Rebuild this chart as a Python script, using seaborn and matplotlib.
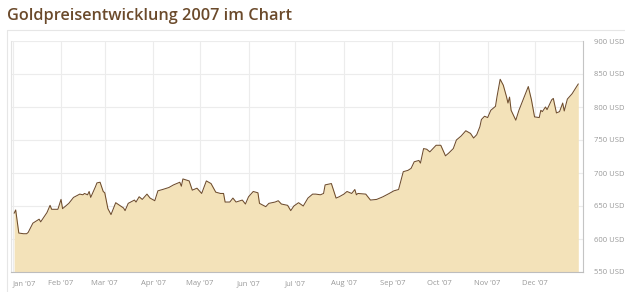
import pandas as pd
import numpy as np
import matplotlib.pyplot as plt
import matplotlib.dates as mdates
import seaborn as sns

# Gold price 2007 (USD per ounce)
dates = [
    "01-02", "01-03", "01-05", "01-08", "01-10", "01-11", "01-14", "01-18", "01-19", "01-23",
    "01-25", "01-26", "01-30", "02-01", "02-02", "02-06", "02-09", "02-13", "02-15", "02-16",
    "02-18", "02-19", "02-20", "02-23", "02-24", "02-26", "02-28", "03-01", "03-03", "03-05",
    "03-08", "03-13", "03-14", "03-16", "03-20", "03-21", "03-23", "03-25", "03-28", "03-30",
    "04-02", "04-04", "04-07", "04-11", "04-14", "04-17", "04-18", "04-19", "04-20", "04-24",
    "04-26", "04-29", "05-02", "05-05", "05-08", "05-11", "05-14", "05-16", "05-17", "05-20",
    "05-22", "05-24", "05-28", "05-30", "06-01", "06-04", "06-07", "06-08", "06-12", "06-14",
    "06-18", "06-20", "06-22", "06-26", "06-28", "06-30", "07-03", "07-06", "07-09", "07-12",
    "07-14", "07-17", "07-19", "07-20", "07-24", "07-27", "07-29", "08-01", "08-03", "08-06",
    "08-08", "08-09", "08-10", "08-15", "08-18", "08-22", "08-26", "08-30", "09-02", "09-05",
    "09-08", "09-11", "09-13", "09-15", "09-18", "09-19", "09-21", "09-23", "09-25", "09-29",
    "10-02", "10-05", "10-07", "10-10", "10-12", "10-15", "10-18", "10-21", "10-23", "10-25",
    "10-27", "10-28", "10-30", "11-01", "11-03", "11-06", "11-07", "11-09", "11-11", "11-13",
    "11-14", "11-15", "11-16", "11-19", "11-21", "11-24", "11-27", "11-29", "12-01", "12-04",
    "12-05", "12-06", "12-08", "12-09", "12-12", "12-13", "12-15", "12-17", "12-19", "12-20",
    "12-22", "12-25", "12-29",
]
prices = [
    639, 644, 609, 608, 608, 610, 624, 630, 626, 640,
    651, 645, 645, 660, 646, 654, 663, 668, 667, 669,
    667, 672, 663, 679, 685, 686, 672, 670, 646, 637,
    655, 647, 643, 654, 659, 656, 664, 660, 668, 662,
    658, 673, 675, 678, 682, 685, 686, 680, 691, 688,
    674, 677, 669, 688, 684, 671, 669, 669, 656, 656,
    662, 656, 659, 653, 664, 672, 670, 654, 649, 654,
    656, 658, 653, 651, 643, 650, 655, 650, 662, 668,
    668, 667, 669, 682, 684, 662, 664, 668, 672, 669,
    675, 667, 669, 668, 659, 660, 664, 669, 673, 675,
    702, 704, 707, 717, 719, 715, 737, 736, 732, 742,
    742, 726, 730, 737, 750, 756, 764, 760, 753, 758,
    770, 781, 786, 784, 795, 801, 816, 842, 833, 816,
    806, 815, 795, 780, 795, 813, 831, 811, 785, 784,
    795, 793, 800, 796, 811, 813, 791, 793, 806, 794,
    812, 820, 835,
]

month_labels = ["Jan '07", "Feb '07", "Mar '07", "Apr '07", "May '07", "Jun '07",
                "Jul '07", "Aug '07", "Sep '07", "Oct '07", "Nov '07", "Dec '07"]
y_ticks = [550, 600, 650, 700, 750, 800, 850, 900]

df = pd.DataFrame({"date": pd.to_datetime(["2007-" + d for d in dates]), "price": prices})

sns.set_style("white")
plt.rcParams['font.family'] = ['Open Sans', 'DejaVu Sans']

line_col = "#6e4c2c"
fill_col = "#f3e2b9"
grid_col = "#ececec"
text_col = "#999999"

fig = plt.figure(figsize=(6.25, 2.92), dpi=100)
ax = fig.add_axes([11 / 625, 20 / 292, 572 / 625, 231 / 292])

ax.fill_between(df["date"], df["price"], 550, color=fill_col, linewidth=0, zorder=2)
sns.lineplot(data=df, x="date", y="price", ax=ax, color=line_col, linewidth=0.75, zorder=3)

ax.set_xlim(pd.Timestamp("2006-12-31"), pd.Timestamp("2008-01-01"))
ax.set_ylim(550, 900)

month_starts = pd.date_range("2007-01-01", periods=12, freq="MS")
ax.set_xticks(month_starts)
ax.set_xticklabels(month_labels)
ax.set_yticks(y_ticks)
ax.set_yticklabels([f"{v} USD" for v in y_ticks])
ax.yaxis.tick_right()

ax.grid(True, color=grid_col, linewidth=0.8, zorder=0)
ax.set_axisbelow(True)
ax.tick_params(axis="both", length=0, labelsize=5.5, colors=text_col)
ax.tick_params(axis="x", pad=6)
ax.tick_params(axis="y", pad=8)
for lab in ax.get_yticklabels():
    lab.set_horizontalalignment("left")
ax.get_xticklabels()[0].set_horizontalalignment("left")

ax.spines["top"].set_visible(False)
ax.spines["left"].set_color("#e4e4e4")
ax.spines["bottom"].set_color("#bdbdbd")
ax.spines["right"].set_color("#c4c4c4")
for s in ax.spines.values():
    s.set_linewidth(0.8)
ax.set_xlabel("")
ax.set_ylabel("")

# light box frame around the chart
fig.add_artist(plt.Line2D([7 / 625, 7 / 625], [0, 262 / 292], color="#e6e6e6", linewidth=0.8))
fig.add_artist(plt.Line2D([7 / 625, 1], [262 / 292, 262 / 292], color="#e6e6e6", linewidth=0.8))

fig.text(7 / 625, 1 - 16 / 292, "Goldpreisentwicklung 2007 im Chart", fontsize=11.7,
         fontweight="semibold", color="#6b4a2b", ha="left", va="center")

fig.savefig("out.png", dpi=100)
